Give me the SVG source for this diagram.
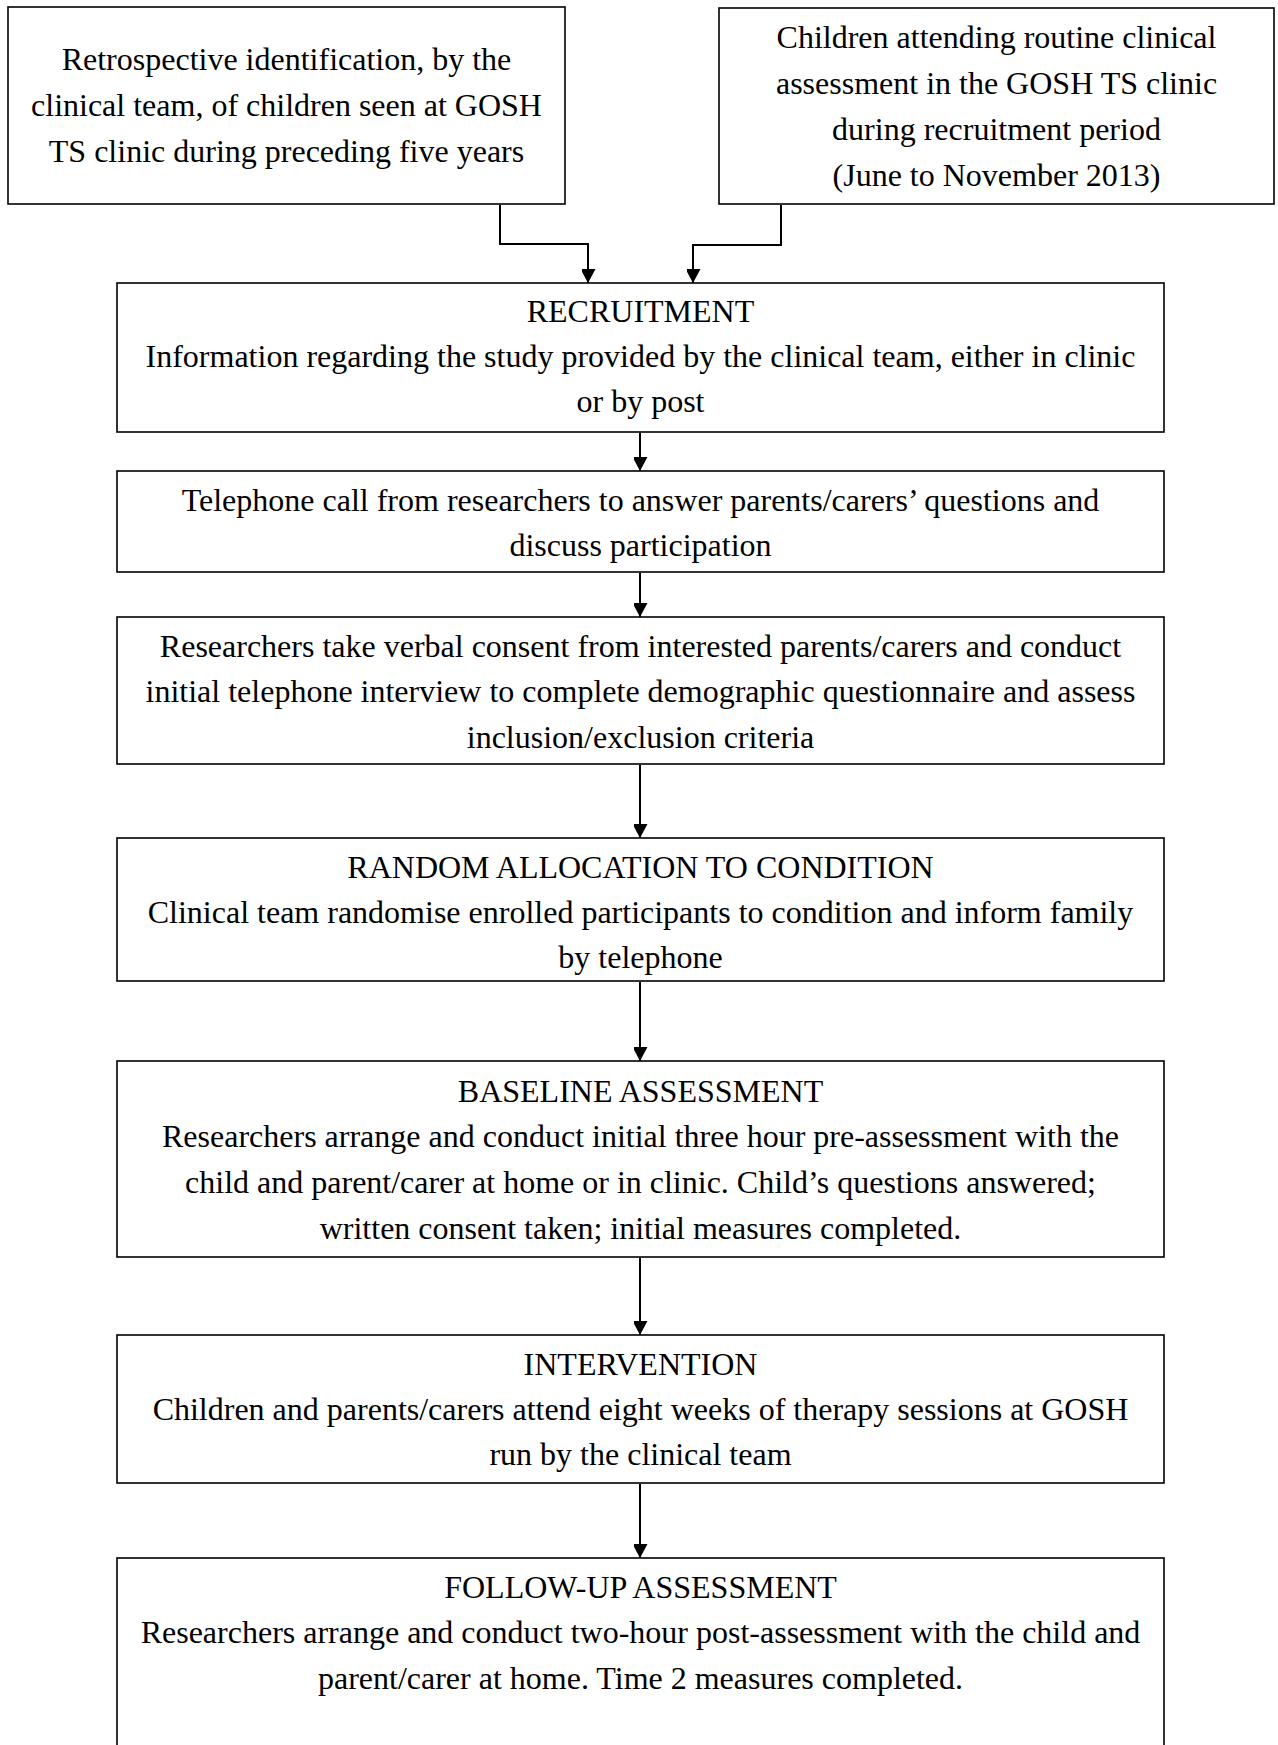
<svg xmlns="http://www.w3.org/2000/svg" width="1278" height="1745" viewBox="0 0 1278 1745">
<style>
.box{fill:#fff;stroke:#000;stroke-width:1.6}
.t{font-family:"Liberation Serif","Times New Roman",serif;font-size:32px;fill:#000;text-anchor:middle}
.c{fill:none;stroke:#000;stroke-width:2}
</style>
<defs>
<marker id="ah" markerUnits="userSpaceOnUse" markerWidth="15" markerHeight="14" refX="14" refY="7.5" orient="auto">
<path d="M0,0 L14,7.5 L0,15 z" fill="#000"/>
</marker>
</defs>
<rect width="1278" height="1745" fill="#fff"/>
<g id="connectors">
<path class="c" d="M500,205 V244 H588 V283" marker-end="url(#ah)"/>
<path class="c" d="M781,205 V245 H693 V283" marker-end="url(#ah)"/>
<path class="c" d="M640,433 V471" marker-end="url(#ah)"/>
<path class="c" d="M640,573 V617" marker-end="url(#ah)"/>
<path class="c" d="M640,765 V838" marker-end="url(#ah)"/>
<path class="c" d="M640,982 V1061" marker-end="url(#ah)"/>
<path class="c" d="M640,1258 V1335" marker-end="url(#ah)"/>
<path class="c" d="M640,1484 V1558" marker-end="url(#ah)"/>
</g>
<g id="n-retro">
<rect class="box" x="8" y="7" width="557" height="197"/>
<text class="t" x="286.5" y="70">Retrospective identification, by the</text>
<text class="t" x="286.5" y="116">clinical team, of children seen at GOSH</text>
<text class="t" x="286.5" y="162">TS clinic during preceding five years</text>
</g>
<g id="n-routine">
<rect class="box" x="719" y="8" width="555" height="196"/>
<text class="t" x="996.5" y="48">Children attending routine clinical</text>
<text class="t" x="996.5" y="94">assessment in the GOSH TS clinic</text>
<text class="t" x="996.5" y="140">during recruitment period</text>
<text class="t" x="996.5" y="186">(June to November 2013)</text>
</g>
<g id="n-recruitment">
<rect class="box" x="117" y="283" width="1047" height="149"/>
<text class="t" x="640.5" y="322">RECRUITMENT</text>
<text class="t" x="640.5" y="367">Information regarding the study provided by the clinical team, either in clinic</text>
<text class="t" x="640.5" y="412">or by post</text>
</g>
<g id="n-telephone">
<rect class="box" x="117" y="471" width="1047" height="101"/>
<text class="t" x="640.5" y="511">Telephone call from researchers to answer parents/carers’ questions and</text>
<text class="t" x="640.5" y="556">discuss participation</text>
</g>
<g id="n-consent">
<rect class="box" x="117" y="617" width="1047" height="147"/>
<text class="t" x="640.5" y="657">Researchers take verbal consent from interested parents/carers and conduct</text>
<text class="t" x="640.5" y="702">initial telephone interview to complete demographic questionnaire and assess</text>
<text class="t" x="640.5" y="748">inclusion/exclusion criteria</text>
</g>
<g id="n-random">
<rect class="box" x="117" y="838" width="1047" height="143"/>
<text class="t" x="640.5" y="878">RANDOM ALLOCATION TO CONDITION</text>
<text class="t" x="640.5" y="923">Clinical team randomise enrolled participants to condition and inform family</text>
<text class="t" x="640.5" y="968">by telephone</text>
</g>
<g id="n-baseline">
<rect class="box" x="117" y="1061" width="1047" height="196"/>
<text class="t" x="640.5" y="1102">BASELINE ASSESSMENT</text>
<text class="t" x="640.5" y="1147">Researchers arrange and conduct initial three hour pre-assessment with the</text>
<text class="t" x="640.5" y="1193">child and parent/carer at home or in clinic. Child’s questions answered;</text>
<text class="t" x="640.5" y="1239">written consent taken; initial measures completed.</text>
</g>
<g id="n-intervention">
<rect class="box" x="117" y="1335" width="1047" height="148"/>
<text class="t" x="640.5" y="1375">INTERVENTION</text>
<text class="t" x="640.5" y="1420">Children and parents/carers attend eight weeks of therapy sessions at GOSH</text>
<text class="t" x="640.5" y="1465">run by the clinical team</text>
</g>
<g id="n-followup">
<rect class="box" x="117" y="1558" width="1047" height="200"/>
<text class="t" x="640.5" y="1598">FOLLOW-UP ASSESSMENT</text>
<text class="t" x="640.5" y="1643">Researchers arrange and conduct two-hour post-assessment with the child and</text>
<text class="t" x="640.5" y="1689">parent/carer at home. Time 2 measures completed.</text>
</g>
</svg>
